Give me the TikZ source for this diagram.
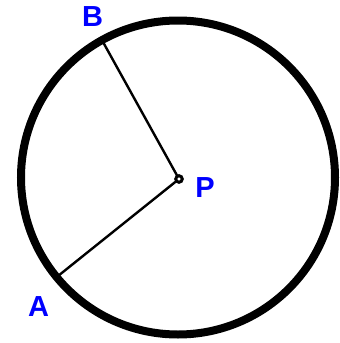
\documentclass[tikz,border=0pt]{standalone}
\usepackage{fontspec}
\setmainfont{Liberation Sans}
\begin{document}
\begin{tikzpicture}[x=1pt,y=-1pt,
  rim/.style={line width=8pt},
  radius line/.style={line width=2.4pt},
  centerdot/.style={circle,draw=black,fill=white,line width=3pt,inner sep=0pt,minimum size=6.5pt},
  lbl/.style={text=blue,font=\fontsize{29}{29}\selectfont\bfseries,inner sep=0pt,anchor=base}]
\useasboundingbox (0,0) rectangle (340,343);
\draw[rim] (178,177.5) circle[radius=157];
\coordinate (ea) at (58,276);
\coordinate (eb) at (103,42);
\coordinate (pc) at (179,179);
\draw[radius line] (pc) -- (eb);
\draw[radius line] (pc) -- (ea);
\node[centerdot] (P) at (pc) {};
\node[lbl] (lP) at (205,197) {P};
\node[lbl] (lB) at (92.5,26) {B};
\node[lbl] (lA) at (38.5,316) {A};
\end{tikzpicture}
\end{document}
